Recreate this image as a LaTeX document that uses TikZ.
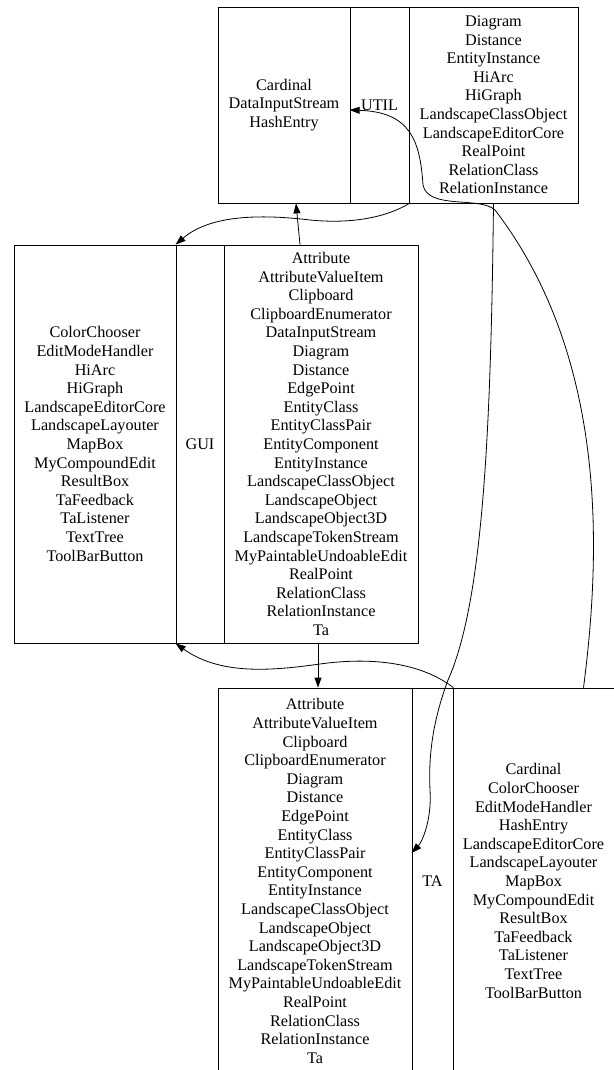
\documentclass[tikz,border=0pt]{standalone}
\usepackage{fontspec}
\setmainfont{Liberation Serif}
\usetikzlibrary{arrows.meta}

\begin{document}
\begin{tikzpicture}[x=1pt,y=-1pt,line width=0.8pt,>={Triangle[length=10pt,width=7pt]}]
          \tikzstyle{every node}=[font=\fontsize{16.2}{18.6}\selectfont, align=center]
          \tikzstyle{rec}=[draw, inner sep=0pt, line width=0.8pt]
          \useasboundingbox (0,0) rectangle (613,1070);

            % UTIL
            \node[rec, minimum width=132pt, minimum height=196pt] (utilL) at (284,105) {Cardinal\\DataInputStream\\HashEntry};
            \node[rec, minimum width=59pt, minimum height=196pt] (utilT) at (379.5,105) {UTIL};
            \node[rec, minimum width=169pt, minimum height=196pt] (utilR) at (493.5,105) {Diagram\\Distance\\EntityInstance\\HiArc\\HiGraph\\LandscapeClassObject\\LandscapeEditorCore\\RealPoint\\RelationClass\\RelationInstance};

            % GUI
            \node[rec, minimum width=162pt, minimum height=398pt] (guiL) at (95,444) {ColorChooser\\EditModeHandler\\HiArc\\HiGraph\\LandscapeEditorCore\\LandscapeLayouter\\MapBox\\MyCompoundEdit\\ResultBox\\TaFeedback\\TaListener\\TextTree\\ToolBarButton};
            \node[rec, minimum width=48pt, minimum height=398pt] (guiT) at (200,444) {GUI};
            \node[rec, minimum width=194pt, minimum height=398pt] (guiR) at (321,444) {Attribute\\AttributeValueItem\\Clipboard\\ClipboardEnumerator\\DataInputStream\\Diagram\\Distance\\EdgePoint\\EntityClass\\EntityClassPair\\EntityComponent\\EntityInstance\\LandscapeClassObject\\LandscapeObject\\LandscapeObject3D\\LandscapeTokenStream\\MyPaintableUndoableEdit\\RealPoint\\RelationClass\\RelationInstance\\Ta};

            % TA
            \node[rec, minimum width=194pt, minimum height=386pt] (taL) at (315,881) {Attribute\\AttributeValueItem\\Clipboard\\ClipboardEnumerator\\Diagram\\Distance\\EdgePoint\\EntityClass\\EntityClassPair\\EntityComponent\\EntityInstance\\LandscapeClassObject\\LandscapeObject\\LandscapeObject3D\\LandscapeTokenStream\\MyPaintableUndoableEdit\\RealPoint\\RelationClass\\RelationInstance\\Ta};
            \node[rec, minimum width=41pt, minimum height=386pt] (taT) at (432.5,881) {TA};
            \node[rec, minimum width=161pt, minimum height=386pt] (taR) at (533.5,881) {Cardinal\\ColorChooser\\EditModeHandler\\HashEntry\\LandscapeEditorCore\\LandscapeLayouter\\MapBox\\MyCompoundEdit\\ResultBox\\TaFeedback\\TaListener\\TextTree\\ToolBarButton};

            \draw[->] (utilT.south east) .. controls (385,218) and (350,224) .. (310,220)
              .. controls (260,214) and (210,215) .. (guiT.north west);
            \draw[->] ([xshift=-21pt]guiR.north) -- ([xshift=12pt]utilL.south);
            \draw[->] ([xshift=-3pt]guiR.south) -- ([xshift=3pt]taL.north);
            \draw[->] (taT.north east) .. controls (420,662) and (370,657) .. (320,664)
              .. controls (270,671) and (220,675) .. (guiT.south west);
            \draw[->] (utilR.south) .. controls (491,420) and (484,600) .. (448,680)
              .. controls (435,715) and (428,750) .. (430,790)
              .. controls (432,820) and (422,842) .. ([yshift=28pt]taT.west);
            \draw[->] ([xshift=50pt]taR.north) .. controls (600,560) and (610,360) .. (495,210)
              .. controls (480,196) and (428,210) .. (423,185)
              .. controls (420,140) and (410,112) .. ([yshift=-5pt]utilT.west);
        \end{tikzpicture}
\end{document}
